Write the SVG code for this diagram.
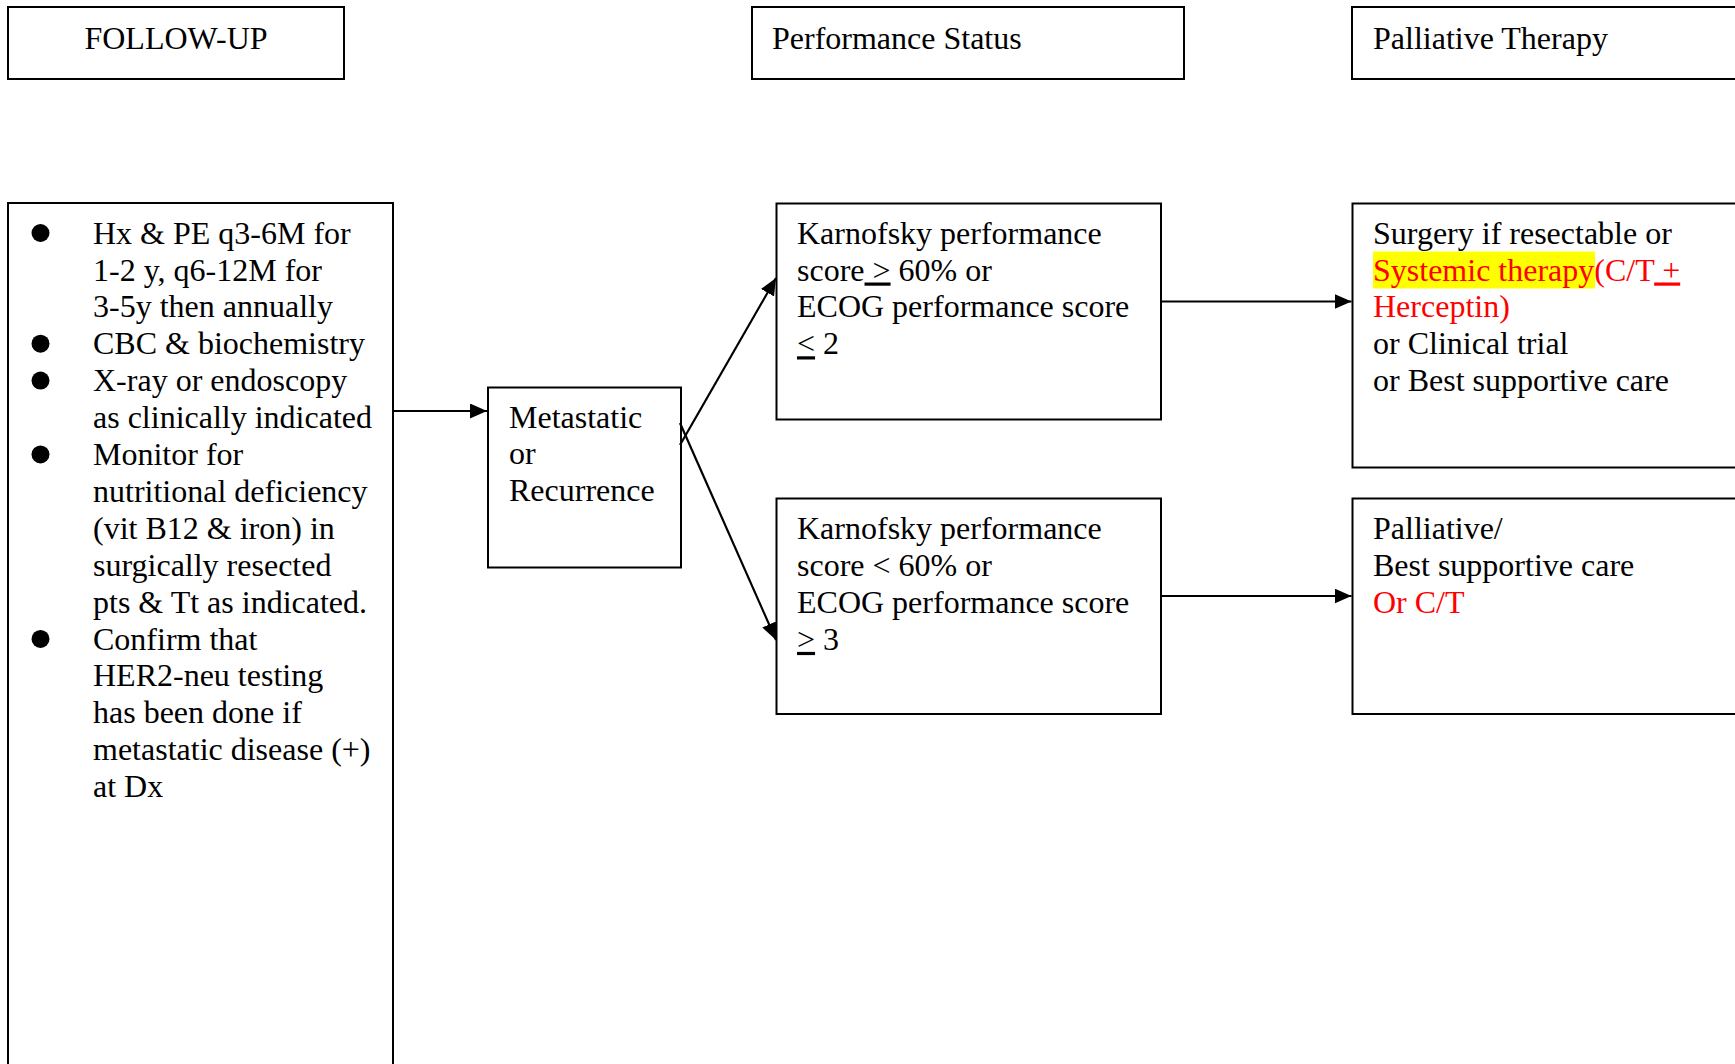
<svg xmlns="http://www.w3.org/2000/svg" width="1735" height="1064" viewBox="0 0 1735 1064">
<style>
  .box { fill: #ffffff; stroke: #000000; stroke-width: 2; }
  .t { font-family: "Liberation Serif", "Times New Roman", serif; font-size: 32px; fill: #000000; }
  .red { fill: #ff0000; }
  .u { text-decoration: underline; }
  .conn { stroke: #000000; stroke-width: 2.2; fill: none; marker-end: url(#arrow); }
  .dot { fill: #000000; }
</style>
<defs>
  <marker id="arrow" markerUnits="userSpaceOnUse" markerWidth="17" markerHeight="15" refX="17" refY="7.5" orient="auto">
    <path d="M0,0 L17,7.5 L0,15 Z" fill="#000000"/>
  </marker>
</defs>
<rect width="1735" height="1064" fill="#ffffff"/>

<g id="followup-header">
  <rect class="box" x="8" y="7" width="336" height="72"/>
  <text class="t" x="176" y="48.5" text-anchor="middle">FOLLOW-UP</text>
</g>

<g id="performance-header">
  <rect class="box" x="752" y="7" width="432" height="72"/>
  <text class="t" x="772" y="48.5">Performance Status</text>
</g>

<g id="palliative-header">
  <rect class="box" x="1352" y="7" width="400" height="72"/>
  <text class="t" x="1373" y="48.5">Palliative Therapy</text>
</g>

<g id="followup-list">
  <rect class="box" x="8" y="203" width="385" height="880"/>
  <circle class="dot" cx="40.5" cy="233" r="9"/>
  <circle class="dot" cx="40.5" cy="343.7" r="9"/>
  <circle class="dot" cx="40.5" cy="380.6" r="9"/>
  <circle class="dot" cx="40.5" cy="454.4" r="9"/>
  <circle class="dot" cx="40.5" cy="638.9" r="9"/>
  <text class="t">
    <tspan x="93" y="243.6">Hx &amp; PE q3-6M for</tspan>
    <tspan x="93" y="280.5">1-2 y, q6-12M for</tspan>
    <tspan x="93" y="317.4">3-5y then annually</tspan>
    <tspan x="93" y="354.3">CBC &amp; biochemistry</tspan>
    <tspan x="93" y="391.2">X-ray or endoscopy</tspan>
    <tspan x="93" y="428.1">as clinically indicated</tspan>
    <tspan x="93" y="465">Monitor for</tspan>
    <tspan x="93" y="501.9">nutritional deficiency</tspan>
    <tspan x="93" y="538.8">(vit B12 &amp; iron) in</tspan>
    <tspan x="93" y="575.7">surgically resected</tspan>
    <tspan x="93" y="612.6">pts &amp; Tt as indicated.</tspan>
    <tspan x="93" y="649.5">Confirm that</tspan>
    <tspan x="93" y="686.4">HER2-neu testing</tspan>
    <tspan x="93" y="723.3">has been done if</tspan>
    <tspan x="93" y="760.2">metastatic disease (+)</tspan>
    <tspan x="93" y="797.1">at Dx</tspan>
  </text>
</g>

<g id="metastatic">
  <rect class="box" x="488" y="387.5" width="193" height="180"/>
  <text class="t">
    <tspan x="509" y="427.5">Metastatic</tspan>
    <tspan x="509" y="464.4">or</tspan>
    <tspan x="509" y="501.3">Recurrence</tspan>
  </text>
</g>

<g id="kps-high">
  <rect class="box" x="776.5" y="203.5" width="384.5" height="216"/>
  <text class="t">
    <tspan x="797" y="243.6">Karnofsky performance</tspan>
    <tspan x="797" y="280.5">score<tspan class="u"> &gt;</tspan> 60% or</tspan>
    <tspan x="797" y="317.4">ECOG performance score</tspan>
    <tspan x="797" y="354.3"><tspan class="u">&lt;</tspan> 2</tspan>
  </text>
</g>

<g id="kps-low">
  <rect class="box" x="776.5" y="498.5" width="384.5" height="215.5"/>
  <text class="t">
    <tspan x="797" y="539.2">Karnofsky performance</tspan>
    <tspan x="797" y="576.1">score &lt; 60% or</tspan>
    <tspan x="797" y="613">ECOG performance score</tspan>
    <tspan x="797" y="649.9"><tspan class="u">&gt;</tspan> 3</tspan>
  </text>
</g>

<g id="therapy-options">
  <rect class="box" x="1352.5" y="203.5" width="400" height="264"/>
  <rect x="1373" y="251.5" width="222" height="37" fill="#ffff00"/>
  <text class="t">
    <tspan x="1373" y="243.6">Surgery if resectable or</tspan>
    <tspan x="1373" y="280.5" class="red">Systemic therapy(C/T<tspan class="u"> +</tspan></tspan>
    <tspan x="1373" y="317.4" class="red">Herceptin)</tspan>
    <tspan x="1373" y="354.3">or Clinical trial</tspan>
    <tspan x="1373" y="391.2">or Best supportive care</tspan>
  </text>
</g>

<g id="palliative-care">
  <rect class="box" x="1352.5" y="498.5" width="400" height="215.5"/>
  <text class="t">
    <tspan x="1373" y="539">Palliative/</tspan>
    <tspan x="1373" y="575.9">Best supportive care</tspan>
    <tspan x="1373" y="612.8" class="red">Or C/T</tspan>
  </text>
</g>

<g id="connectors">
  <line class="conn" x1="393" y1="411" x2="487" y2="411"/>
  <line class="conn" x1="680" y1="445" x2="776" y2="278"/>
  <line class="conn" x1="680" y1="423" x2="776" y2="640"/>
  <line class="conn" x1="1161" y1="301.5" x2="1351.5" y2="301.5"/>
  <line class="conn" x1="1161" y1="596" x2="1351.5" y2="596"/>
</g>
</svg>
